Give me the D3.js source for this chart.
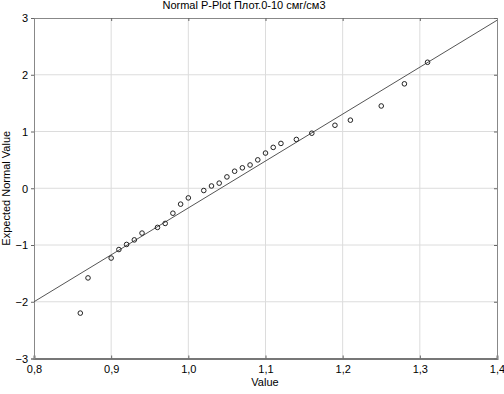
<!DOCTYPE html>
<html><head><meta charset="utf-8">
<script src="https://cdn.jsdelivr.net/npm/d3@7"></script>
<style>body{margin:0;background:#fff}svg{display:block}text{font-family:"Liberation Sans",Arial,sans-serif;fill:#000}</style>
</head><body><svg id="c" width="504" height="394"></svg>
<script>
const title = "Normal P-Plot Плот.0-10 смг/см3";
const xLabel = "Value";
const yLabel = "Expected Normal Value";
const xTicks = [0.8, 0.9, 1.0, 1.1, 1.2, 1.3, 1.4];
const yTicks = [-3, -2, -1, 0, 1, 2, 3];
const values = [0.86,0.87,0.90,0.91,0.92,0.93,0.94,0.96,0.97,0.98,0.99,1.00,1.02,1.03,1.04,1.05,1.06,1.07,1.08,1.09,1.10,1.11,1.12,1.14,1.16,1.19,1.21,1.25,1.28,1.31];
const expected = [-2.20,-1.58,-1.23,-1.08,-0.99,-0.91,-0.79,-0.69,-0.62,-0.44,-0.28,-0.17,-0.04,0.04,0.09,0.20,0.30,0.36,0.41,0.50,0.62,0.72,0.79,0.86,0.97,1.11,1.20,1.45,1.84,2.22];
const fitX = [0.8, 1.4];
const fitY = [-2.0, 2.96];

const svg = d3.select("#c");
const L=34, R=497, T=18, B=358.5;
const x = d3.scaleLinear().domain([0.8,1.4]).range([L,R]);
const y = d3.scaleLinear().domain([-3,3]).range([B,T]);
const fmt = d => d3.format(".1f")(d).replace(".", ",");

// grid
svg.append("g").selectAll("line").data(xTicks.slice(1,-1)).join("line")
  .attr("x1",d=>x(d)).attr("x2",d=>x(d)).attr("y1",T).attr("y2",B)
  .attr("stroke","#dcdcdc").attr("stroke-width",1);
svg.append("g").selectAll("line").data(yTicks.slice(1,-1)).join("line")
  .attr("y1",d=>y(d)).attr("y2",d=>y(d)).attr("x1",L).attr("x2",R)
  .attr("stroke","#dcdcdc").attr("stroke-width",1);

// axes
const xa = svg.append("g").attr("transform",`translate(0,${B})`)
  .call(d3.axisBottom(x).tickValues(xTicks).tickFormat(fmt).tickSize(-3).tickPadding(7));
const xaTop = svg.append("g").attr("transform",`translate(0,${T})`)
  .call(d3.axisTop(x).tickValues(xTicks).tickFormat("").tickSize(-3));
const ya = svg.append("g").attr("transform",`translate(${L},0)`)
  .call(d3.axisLeft(y).tickValues(yTicks).tickFormat(d3.format("d")).tickSize(3).tickPadding(3));
const yaR = svg.append("g").attr("transform",`translate(${R},0)`)
  .call(d3.axisRight(y).tickValues(yTicks).tickFormat("").tickSize(-3));
[xa,xaTop,ya,yaR].forEach(g=>{
  g.select(".domain").attr("stroke","#888").attr("stroke-width",1);
  g.selectAll(".tick line").attr("stroke","#666");
  g.selectAll("text").attr("font-size",11).attr("fill","#000").attr("font-family",'"Liberation Sans",Arial,sans-serif');
});
xa.select(".domain").attr("stroke","#777").attr("stroke-width",2);
ya.selectAll("text").attr("dy","0.35em");

// fit line
svg.append("line")
  .attr("x1",x(fitX[0])).attr("y1",y(fitY[0])).attr("x2",x(fitX[1])).attr("y2",y(fitY[1]))
  .attr("stroke","#555").attr("stroke-width",1);

// points
svg.append("g").selectAll("circle").data(values.map((v,i)=>[v,expected[i]])).join("circle")
  .attr("cx",d=>x(d[0])).attr("cy",d=>y(d[1])).attr("r",2.3)
  .attr("fill","none").attr("stroke","#222").attr("stroke-width",1);

// labels
svg.append("text").attr("x",244).attr("y",9).attr("text-anchor","middle").attr("font-size",11).text(title);
svg.append("text").attr("x",265).attr("y",386).attr("text-anchor","middle").attr("font-size",11).text(xLabel);
svg.append("text").attr("transform",`translate(10,${(T+B)/2}) rotate(-90)`).attr("text-anchor","middle").attr("font-size",11).text(yLabel);
</script></body></html>
